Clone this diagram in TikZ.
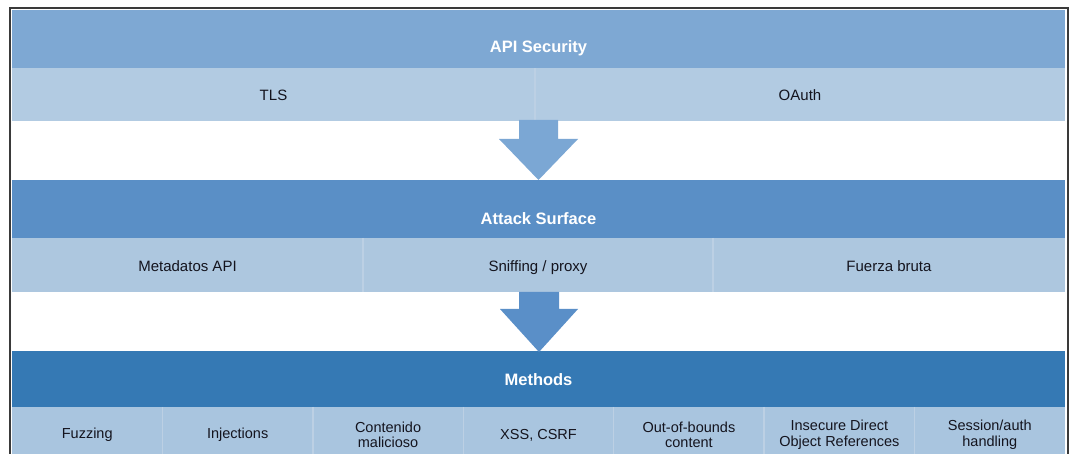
\documentclass[tikz,border=0pt]{standalone}
\usepackage{fontspec}
\setmainfont{Liberation Sans}
\usetikzlibrary{calc}
\definecolor{bandA}{HTML}{7EA8D3}
\definecolor{rowA}{HTML}{B2CBE2}
\definecolor{bandB}{HTML}{5A8FC6}
\definecolor{rowB}{HTML}{ADC7DF}
\definecolor{bandC}{HTML}{3579B4}
\definecolor{rowC}{HTML}{A9C5DF}
\definecolor{arrA}{HTML}{7BA7D4}
\definecolor{arrB}{HTML}{5A8FC8}
\definecolor{txt}{HTML}{14141E}
\definecolor{frame}{HTML}{3A3A3A}
\definecolor{divline}{HTML}{BCD0E4}
\tikzset{
  bandbox/.style={anchor=north west, inner sep=0pt, outer sep=0pt, minimum width=1053pt, minimum height=#1},
  cellbox/.style={anchor=north west, inner sep=0pt, outer sep=0pt, text=txt, align=center, font=\fontsize{15}{17}\selectfont},
  onecell/.style={cellbox, text height=16pt, text depth=3.2pt},
  mcell/.style={cellbox, fill=rowC, minimum width=150.43pt, minimum height=56pt, font=\fontsize{14.5}{15.5}\selectfont},
  title/.style={text=white, font=\fontsize{16.5}{18}\selectfont\bfseries, inner sep=0pt},
  divider/.style={draw=divline, line width=1.4pt},
  bigarrowA/.style={fill=arrA},
  bigarrowB/.style={fill=arrB}
}
\begin{document}
\begin{tikzpicture}[x=1pt,y=-1pt]
\useasboundingbox (0,0) rectangle (1072,454);
\fill[white] (0,0) rectangle (1072,454);

% level 1
\node[bandbox=58pt, fill=bandA] (bandA) at (12,10) {};
\node[title] (tA) at (538.5,48) {API Security};
\node[onecell, fill=rowA, minimum width=523pt, minimum height=53pt] (tls) at (12,68) {TLS};
\node[onecell, fill=rowA, minimum width=530pt, minimum height=53pt] (oauth) at (535,68) {OAuth};
\draw[divider] (tls.north east) -- (tls.south east);

% level 2
\node[bandbox=58pt, fill=bandB] (bandB) at (12,180) {};
\node[title] (tB) at (538.5,219) {Attack Surface};
\node[onecell, fill=rowB, minimum width=351pt, minimum height=54pt] (meta) at (12,238) {Metadatos API};
\node[onecell, fill=rowB, minimum width=350pt, minimum height=54pt] (sniff) at (363,238) {Sniffing / proxy};
\node[onecell, fill=rowB, minimum width=352pt, minimum height=54pt] (fuerza) at (713,238) {Fuerza bruta};
\draw[divider] (meta.north east) -- (meta.south east);
\draw[divider] (sniff.north east) -- (sniff.south east);

% level 3
\node[bandbox=56pt, fill=bandC] (bandC) at (12,351) {};
\node[title] (tC) at (538.5,380) {Methods};
\foreach \t [count=\i from 0] in {Fuzzing, Injections, {Contenido\\malicioso}, {XSS, CSRF}, {Out-of-bounds\\content}, {Insecure Direct\\Object References}, {Session/auth\\handling}} {
  \node[mcell] (m\i) at (12+\i*150.43,407) {\t};
}
\foreach \i in {0,...,5} {
  \draw[divider] (m\i.north east) -- (m\i.south east);
}

% arrows
\coordinate (a1top) at (538.5,121);
\coordinate (a1tip) at (538.5,180);
\fill[bigarrowA] ($(a1top)+(-19.5,-1)$) -- ($(a1top)+(19.5,-1)$) -- ($(a1top)+(19.5,18)$) -- ($(a1top)+(39.5,18)$)
  -- (a1tip) -- ($(a1top)+(-39.5,18)$) -- ($(a1top)+(-19.5,18)$) -- cycle;
\coordinate (a2top) at (539,292);
\coordinate (a2tip) at (539,352);
\fill[bigarrowB] ($(a2top)+(-20,0)$) -- ($(a2top)+(20,0)$) -- ($(a2top)+(20,17)$) -- ($(a2top)+(39,17)$)
  -- (a2tip) -- ($(a2top)+(-39,17)$) -- ($(a2top)+(-20,17)$) -- cycle;

% frame
\draw[frame, line width=2pt] (10,454) -- (10,8.5) -- (1068,8.5) -- (1068,454);
\end{tikzpicture}
\end{document}
